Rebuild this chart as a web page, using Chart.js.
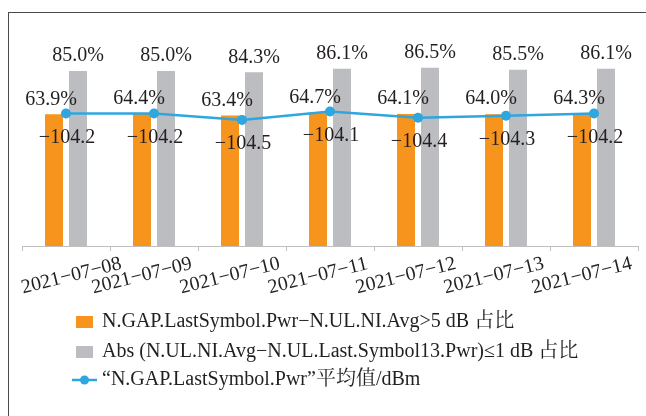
<!DOCTYPE html>
<html>
<head>
<meta charset="utf-8">
<script src="https://cdn.jsdelivr.net/npm/chart.js@4/dist/chart.umd.min.js"></script>
<style>
  html, body { margin: 0; padding: 0; background: #fff; overflow: hidden; }
  #wrap { position: relative; width: 646px; height: 416px; }
  #frame { position: absolute; left: 8px; top: 12px; width: 700px; height: 500px;
           border-top: 1.5px solid #4a4a4a; border-left: 1.5px solid #4a4a4a; box-sizing: border-box; }
  canvas { position: absolute; left: 0; top: 0; }
</style>
</head>
<body>
<div id="wrap">
  <div id="frame"></div>
  <canvas id="c" width="646" height="416"></canvas>
</div>
<script>
// Daily statistics, 2021-07-08 .. 2021-07-14
const dates = ['2021-07-08', '2021-07-09', '2021-07-10', '2021-07-11', '2021-07-12', '2021-07-13', '2021-07-14'];
const gapRatio = [63.9, 64.4, 63.4, 64.7, 64.1, 64.0, 64.3];      // %
const absRatio = [85.0, 85.0, 84.3, 86.1, 86.5, 85.5, 86.1];      // %
const avgPwr = [-104.2, -104.2, -104.5, -104.1, -104.4, -104.3, -104.2]; // dBm

const seriesNames = [
  'N.GAP.LastSymbol.Pwr\u2212N.UL.NI.Avg>5 dB 占比',
  'Abs (N.UL.NI.Avg\u2212N.UL.Last.Symbol13.Pwr)≤1 dB 占比',
  '“N.GAP.LastSymbol.Pwr”平均值/dBm'
];

const ORANGE = '#f7941d';
const GREY = '#bcbdc1';
const BLUE = '#2ea6df';
const TEXT = '#231f20';
const FONT_FAMILY = '"Liberation Serif", "Noto Serif CJK SC", "Noto Sans CJK SC", serif';

const minus = s => s.replace(/-/g, '\u2212');

// value labels above bars and below line points
const valueLabels = {
  id: 'valueLabels',
  afterDatasetsDraw(chart) {
    const ctx = chart.ctx;
    ctx.save();
    ctx.font = '20px ' + FONT_FAMILY;
    ctx.fillStyle = TEXT;
    ctx.textAlign = 'center';
    ctx.textBaseline = 'middle';
    chart.data.datasets.forEach((ds, di) => {
      const meta = chart.getDatasetMeta(di);
      meta.data.forEach((el, i) => {
        const v = ds.data[i];
        if (ds.type === 'line') {
          ctx.fillText(minus(v.toFixed(1)), el.x + 1, el.y + 24);
        } else {
          ctx.fillText(v.toFixed(1) + '%', el.x + (di === 0 ? -3 : 0), el.y - 15);
        }
      });
    });
    ctx.restore();
  }
};

// slanted category labels under the axis, kept inside the frame
const dateLabels = {
  id: 'dateLabels',
  afterDraw(chart) {
    const ctx = chart.ctx;
    const xs = chart.scales.x;
    const y0 = chart.chartArea.bottom;
    const ang = 14 * Math.PI / 180;
    ctx.save();
    ctx.font = '20px ' + FONT_FAMILY;
    ctx.fillStyle = TEXT;
    ctx.textAlign = 'center';
    ctx.textBaseline = 'middle';
    dates.forEach((d, i) => {
      const text = minus(d);
      const w = ctx.measureText(text).width;
      const halfSpan = (w * Math.cos(ang) + 14 * Math.sin(ang)) / 2;
      let cx = xs.getPixelForValue(i) - 12;
      cx = Math.max(cx, 20 + halfSpan);
      ctx.save();
      ctx.translate(cx, y0 + 30);
      ctx.rotate(-ang);
      ctx.fillText(text, 0, 0);
      ctx.restore();
    });
    ctx.restore();
  }
};

// legend: one series per row, left aligned
const rowLegend = {
  id: 'rowLegend',
  afterDraw(chart) {
    const ctx = chart.ctx;
    const rows = [322, 352, 380];
    ctx.save();
    ctx.font = '20px ' + FONT_FAMILY;
    ctx.textAlign = 'left';
    ctx.textBaseline = 'middle';
    chart.data.datasets.forEach((ds, di) => {
      const y = rows[di];
      if (ds.type === 'line') {
        ctx.strokeStyle = ds.borderColor;
        ctx.lineWidth = 2.5;
        ctx.beginPath();
        ctx.moveTo(72, y);
        ctx.lineTo(97, y);
        ctx.stroke();
        ctx.fillStyle = ds.borderColor;
        ctx.beginPath();
        ctx.arc(84.5, y, 4.5, 0, Math.PI * 2);
        ctx.fill();
      } else {
        ctx.fillStyle = ds.backgroundColor;
        ctx.fillRect(76, y - 6, 17, 12);
      }
      ctx.fillStyle = TEXT;
      ctx.fillText(ds.label, 102, y);
    });
    ctx.restore();
  }
};

new Chart(document.getElementById('c'), {
  type: 'bar',
  data: {
    labels: dates,
    datasets: [
      { type: 'bar', label: seriesNames[0], data: gapRatio, backgroundColor: ORANGE,
        yAxisID: 'y', order: 2, categoryPercentage: 0.545, barPercentage: 0.75 },
      { type: 'bar', label: seriesNames[1], data: absRatio, backgroundColor: GREY,
        yAxisID: 'y', order: 2, categoryPercentage: 0.545, barPercentage: 0.75 },
      { type: 'line', label: seriesNames[2], data: avgPwr, borderColor: BLUE, backgroundColor: BLUE,
        borderWidth: 2.5, pointRadius: 5, pointHoverRadius: 5, pointBackgroundColor: BLUE,
        pointBorderWidth: 0, tension: 0, yAxisID: 'y2', order: 0 }
    ]
  },
  options: {
    responsive: false,
    animation: false,
    devicePixelRatio: 1,
    layout: { padding: { left: 22, right: 8, top: 40, bottom: 165 } },
    plugins: { legend: { display: false }, tooltip: { enabled: false } },
    scales: {
      x: {
        grid: { display: true, drawOnChartArea: false, drawTicks: true, tickLength: 5,
                color: '#bfbfbf', offset: true },
        border: { display: true, color: '#bfbfbf', width: 1 },
        ticks: { display: false }
      },
      y: { display: false, min: 0, max: 100 },
      y2: { display: false, min: -110.5, max: -100.7 }
    }
  },
  plugins: [valueLabels, dateLabels, rowLegend]
});
</script>
</body>
</html>
